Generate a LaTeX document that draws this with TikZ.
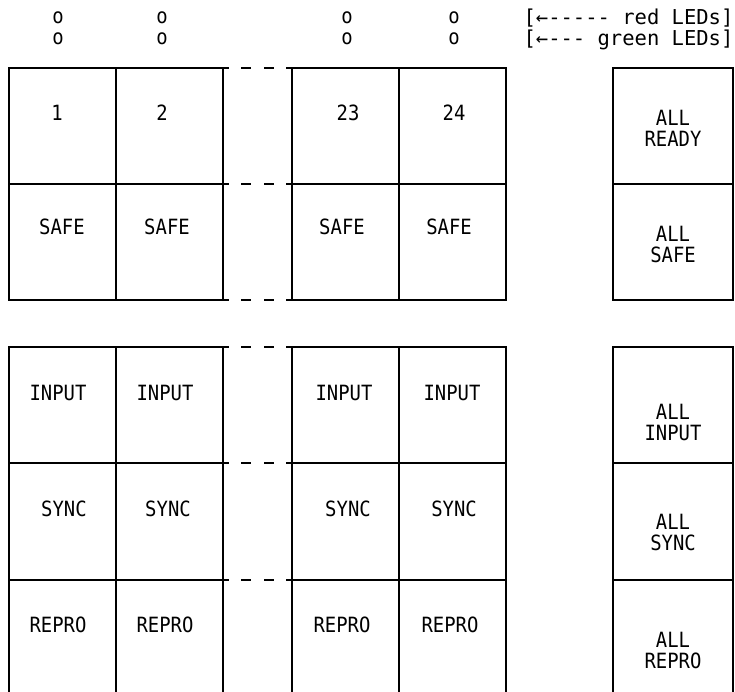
\documentclass[tikz,border=0pt]{standalone}
\usepackage{fontspec}
\newfontfamily\lblfont[FakeStretch=0.9]{DejaVu Sans Mono}
\newfontfamily\legfont{DejaVu Sans Mono}
\begin{document}
\begin{tikzpicture}[x=1pt,y=-1pt,line width=1.2pt,line cap=rect,
  lbl/.style={font=\lblfont\fontsize{21}{21}\selectfont,inner sep=0pt},
  twoline/.style={lbl,align=center},
  led/.style={lbl},
  legend/.style={font=\legfont\fontsize{20.5}{20.5}\selectfont,inner sep=0pt,anchor=east}]
\useasboundingbox (0,0) rectangle (735,691);
% group A
\foreach \x in {9,116,223}{\draw (\x,68) -- (\x,300); \draw (\x,347) -- (\x,691);}
\foreach \y in {68,184,300,347,463,580}{\draw (9,\y) -- (228,\y);}
% group B
\foreach \x in {292,399,506}{\draw (\x,68) -- (\x,300); \draw (\x,347) -- (\x,691);}
\foreach \y in {68,184,300,347,463,580}{\draw (287,\y) -- (506,\y);}
% gap dashes
\foreach \y in {68,184,300,347,463,580}{\draw (242,\y) -- (250,\y); \draw (265,\y) -- (273,\y);}
% right column
\foreach \x in {613,733}{\draw (\x,68) -- (\x,300); \draw (\x,347) -- (\x,691);}
\foreach \y in {68,184,300,347,463,580}{\draw (613,\y) -- (733,\y);}
% LEDs
\node[led] (r1) at (58,18) {o};
\node[led] (r2) at (162,18) {o};
\node[led] (r23) at (347,18) {o};
\node[led] (r24) at (454,18) {o};
\node[led] (g1) at (58,39) {o};
\node[led] (g2) at (162,39) {o};
\node[led] (g23) at (347,39) {o};
\node[led] (g24) at (454,39) {o};
\node[legend] (lr) at (734,18) {[←----- red LEDs]};
\node[legend] (lg) at (734,40) {[←--- green LEDs]};
% row 1
\node[lbl] (c1) at (57,113) {1};
\node[lbl] (c2) at (162,113) {2};
\node[lbl] (c23) at (348,113) {23};
\node[lbl] (c24) at (454,113) {24};
\node[twoline] (aready) at (673,128.5) {ALL\\READY};
% SAFE
\node[lbl] (s1) at (62,227) {SAFE};
\node[lbl] (s2) at (167,227) {SAFE};
\node[lbl] (s23) at (342,227) {SAFE};
\node[lbl] (s24) at (449,227) {SAFE};
\node[twoline] (asafe) at (673,244.5) {ALL\\SAFE};
% INPUT
\node[lbl] (i1) at (58,393) {INPUT};
\node[lbl] (i2) at (165,393) {INPUT};
\node[lbl] (i23) at (344,393) {INPUT};
\node[lbl] (i24) at (452,393) {INPUT};
\node[twoline] (ainput) at (673,422.5) {ALL\\INPUT};
% SYNC
\node[lbl] (y1) at (64,509) {SYNC};
\node[lbl] (y2) at (168,509) {SYNC};
\node[lbl] (y23) at (348,509) {SYNC};
\node[lbl] (y24) at (454,509) {SYNC};
\node[twoline] (async) at (673,532.5) {ALL\\SYNC};
% REPRO
\node[lbl] (p1) at (58,625) {REPRO};
\node[lbl] (p2) at (165,625) {REPRO};
\node[lbl] (p23) at (342,625) {REPRO};
\node[lbl] (p24) at (450,625) {REPRO};
\node[twoline] (arepro) at (673,650.5) {ALL\\REPRO};
\end{tikzpicture}
\end{document}
